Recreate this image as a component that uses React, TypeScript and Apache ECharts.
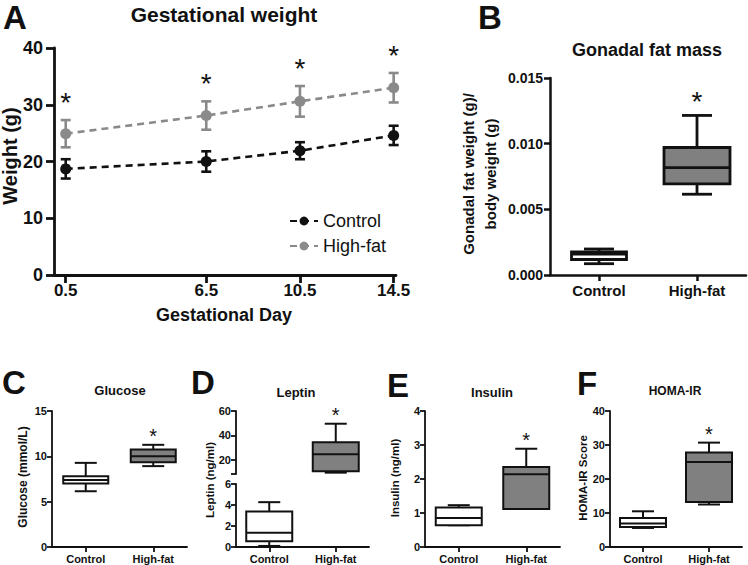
import React, { useEffect, useRef } from 'react';
import * as echarts from 'echarts';

const FONT = '"Liberation Sans", Arial, Helvetica, sans-serif';
const INK = '#111111';
const GREY_LINE = '#8a8a8a';
const BOX_GREY = '#808080';

// ---- Panel A: gestational weight (mean ± SD) ----
const gestDays = [0.5, 6.5, 10.5, 14.5];
const dayTicks = [0.5, 6.5, 10.5, 14.5];
const controlWeight = [18.7, 20.0, 21.9, 24.6];
const controlWeightErr = [1.7, 1.8, 1.5, 1.7];
const highFatWeight = [24.9, 28.1, 30.6, 33.0];
const highFatWeightErr = [2.4, 2.5, 2.7, 2.6];
const weightSig = [true, true, true, true];

// ---- Box plots: [min, Q1, median, Q3, max] ----
const groups = ['Control', 'High-fat'];
const fatMassControl = [0.00086, 0.00118, 0.0016, 0.00176, 0.00198];
const fatMassHighFat = [0.00615, 0.00694, 0.00818, 0.00971, 0.01215];
const glucoseControl = [6.15, 7.0, 7.4, 7.81, 9.28];
const glucoseHighFat = [8.92, 9.36, 10.02, 10.76, 11.27];
const leptinControl = [0.1, 0.55, 1.35, 3.38, 4.27];
const leptinHighFat = [9.6, 10.8, 24.7, 34.4, 49.6];
const insulinControl = [0.64, 0.64, 0.85, 1.16, 1.23];
const insulinHighFat = [1.12, 1.12, 2.14, 2.35, 2.89];
const homaControl = [5.6, 5.9, 6.9, 8.55, 10.5];
const homaHighFat = [12.5, 13.2, 25.0, 27.8, 30.7];
const leptinUpperTicks = [20, 40, 60];
const leptinUpperMin = 8.5;

type BoxItem = { cat: number; stats: number[]; fill: string; star: boolean; boxW: number };

function boxSeries(xi: number, yi: number, items: BoxItem[], capW: number, lw: number, starSize: number, starGap: number) {
  return {
    type: 'custom',
    xAxisIndex: xi,
    yAxisIndex: yi,
    silent: true,
    data: items.map((it) => [it.cat, ...it.stats]),
    encode: { x: 0, y: [1, 2, 3, 4, 5] },
    renderItem: (params: any, api: any) => {
      const it = items[params.dataIndex];
      const cat = api.value(0);
      const cx = api.coord([cat, api.value(1)])[0];
      const y = [1, 2, 3, 4, 5].map((k) => api.coord([cat, api.value(k)])[1]);
      const [yMin, yQ1, yMed, yQ3, yMax] = y;
      const bw = it.boxW;
      const ls = { stroke: INK, lineWidth: lw };
      const children: any[] = [
        { type: 'line', shape: { x1: cx, y1: yQ3, x2: cx, y2: yMax }, style: ls },
        { type: 'line', shape: { x1: cx - capW / 2, y1: yMax, x2: cx + capW / 2, y2: yMax }, style: ls },
        { type: 'line', shape: { x1: cx, y1: yQ1, x2: cx, y2: yMin }, style: ls },
        { type: 'line', shape: { x1: cx - capW / 2, y1: yMin, x2: cx + capW / 2, y2: yMin }, style: ls },
        {
          type: 'rect',
          shape: { x: cx - bw / 2, y: yQ3, width: bw, height: yQ1 - yQ3 },
          style: { fill: it.fill, stroke: INK, lineWidth: lw },
        },
        { type: 'line', shape: { x1: cx - bw / 2, y1: yMed, x2: cx + bw / 2, y2: yMed }, style: ls },
      ];
      if (it.star) {
        children.push({
          type: 'text',
          x: cx,
          y: yMax - starGap + starSize * 0.17,
          style: { text: '*', fontSize: starSize, fontFamily: FONT, fill: INK, align: 'center', verticalAlign: 'middle' },
        });
      }
      return { type: 'group', children };
    },
    z: 3,
  };
}

function errSeries(name: string, means: number[], errs: number[], color: string) {
  return {
    type: 'custom',
    name: name + ' SD',
    xAxisIndex: 0,
    yAxisIndex: 0,
    silent: true,
    data: gestDays.map((d, i) => [d, means[i], errs[i]]),
    renderItem: (params: any, api: any) => {
      const x = api.value(0);
      const m = api.value(1);
      const e = api.value(2);
      const top = api.coord([x, m + e]);
      const bot = api.coord([x, m - e]);
      const ls = { stroke: color, lineWidth: 2.6 };
      return {
        type: 'group',
        children: [
          { type: 'line', shape: { x1: top[0], y1: top[1], x2: bot[0], y2: bot[1] }, style: ls },
          { type: 'line', shape: { x1: top[0] - 5, y1: top[1], x2: top[0] + 5, y2: top[1] }, style: ls },
          { type: 'line', shape: { x1: bot[0] - 5, y1: bot[1], x2: bot[0] + 5, y2: bot[1] }, style: ls },
        ],
      };
    },
    z: 2,
  };
}

const boldLabel = (size: number, margin: number, extra: any = {}) => ({
  fontFamily: FONT,
  fontWeight: 'bold',
  fontSize: size,
  color: INK,
  margin,
  ...extra,
});

function valueY(gi: number, min: number, max: number, interval: number | undefined, size: number, lw: number, tickLen: number, margin: number, extra: any = {}) {
  return {
    type: 'value',
    gridIndex: gi,
    min,
    max,
    ...(interval !== undefined ? { interval } : {}),
    axisLine: { show: true, lineStyle: { color: INK, width: lw } },
    axisTick: { show: true, length: tickLen, lineStyle: { color: INK, width: lw }, ...(extra.tick || {}) },
    axisLabel: { ...boldLabel(size, margin), ...(extra.label || {}) },
    splitLine: { show: false },
  };
}

function catX(gi: number, size: number, lw: number, tickLen: number, margin: number, show = true) {
  return {
    type: 'category',
    gridIndex: gi,
    show,
    data: groups,
    axisLine: { show: true, lineStyle: { color: INK, width: lw } },
    axisTick: { show: true, alignWithLabel: true, length: tickLen, lineStyle: { color: INK, width: lw } },
    axisLabel: boldLabel(size, margin),
    splitLine: { show: false },
  };
}

const txt = (text: string, x: number, y: number, size: number, bold = true, rot = 0, extra: any = {}) => ({
  type: 'text',
  x,
  y,
  rotation: rot,
  silent: true,
  style: {
    text,
    fontFamily: FONT,
    fontWeight: bold ? 'bold' : 'normal',
    fontSize: size,
    fill: INK,
    align: 'center',
    verticalAlign: 'middle',
    ...extra,
  },
});

export default function App() {
  const ref = useRef<HTMLDivElement>(null);
  useEffect(() => {
    if (!ref.current) return;
    const chart = echarts.init(ref.current, null, { renderer: 'svg', width: 748, height: 565 });
    const R = Math.PI / 2;
    const noOuter = { containLabel: false, outerBoundsMode: 'none', show: false };
    const option: any = {
      animation: false,
      backgroundColor: '#ffffff',
      textStyle: { fontFamily: FONT },
      grid: [
        { left: 54, top: 48, width: 342, height: 227, ...noOuter }, // A
        { left: 550, top: 78, width: 196, height: 197, ...noOuter }, // B
        { left: 52, top: 411, width: 135, height: 136, ...noOuter }, // C
        { left: 236, top: 411, width: 133, height: 63, ...noOuter }, // D upper
        { left: 236, top: 484, width: 133, height: 63, ...noOuter }, // D lower
        { left: 425, top: 411, width: 135, height: 136, ...noOuter }, // E
        { left: 610, top: 411, width: 132, height: 136, ...noOuter }, // F
      ],
      xAxis: [
        {
          type: 'value',
          gridIndex: 0,
          min: 0,
          max: 14.6,
          axisLine: { show: true, lineStyle: { color: INK, width: 2.8 } },
          axisTick: { show: true, length: 8, customValues: dayTicks, lineStyle: { color: INK, width: 2.8 } },
          axisLabel: { ...boldLabel(17, 7), customValues: dayTicks, formatter: (v: number) => String(v) },
          splitLine: { show: false },
        },
        catX(1, 15, 2.5, 6, 8),
        catX(2, 11, 1.8, 5, 6),
        catX(3, 11, 1.8, 5, 6, false),
        catX(4, 11, 1.8, 5, 6),
        catX(5, 11, 1.8, 5, 6),
        catX(6, 11, 1.8, 5, 6),
      ],
      yAxis: [
        valueY(0, 0, 40, 10, 18, 2.8, 8, 11),
        valueY(1, 0, 0.015, 0.005, 14, 2.5, 6, 7, { label: { formatter: (v: number) => v.toFixed(3) } }),
        valueY(2, 0, 15, 5, 11, 1.8, 5, 5),
        valueY(3, leptinUpperMin, 60, undefined, 11, 1.8, 5, 5, {
          label: { customValues: leptinUpperTicks },
          tick: { customValues: [leptinUpperMin, ...leptinUpperTicks] },
        }),
        valueY(4, 0, 6, 2, 11, 1.8, 5, 5),
        valueY(5, 0, 4, 1, 11, 1.8, 5, 5),
        valueY(6, 0, 40, 10, 11, 1.8, 5, 5),
      ],
      legend: {
        data: ['Control', 'High-fat'],
        orient: 'vertical',
        left: 284,
        top: 207,
        itemWidth: 28,
        itemHeight: 11,
        itemGap: 7,
        textStyle: { fontFamily: FONT, fontSize: 18, color: INK },
        selectedMode: false,
      },
      series: [
        errSeries('Control', controlWeight, controlWeightErr, INK),
        errSeries('High-fat', highFatWeight, highFatWeightErr, GREY_LINE),
        {
          type: 'line',
          name: 'Control',
          xAxisIndex: 0,
          yAxisIndex: 0,
          data: gestDays.map((d, i) => [d, controlWeight[i]]),
          symbol: 'circle',
          symbolSize: 11,
          itemStyle: { color: INK },
          lineStyle: { color: INK, width: 2.6, type: [7, 5] },
          z: 3,
        },
        {
          type: 'line',
          name: 'High-fat',
          xAxisIndex: 0,
          yAxisIndex: 0,
          data: gestDays.map((d, i) => [d, highFatWeight[i]]),
          symbol: 'circle',
          symbolSize: 11,
          itemStyle: { color: GREY_LINE },
          lineStyle: { color: GREY_LINE, width: 2.6, type: [7, 5] },
          z: 3,
        },
        {
          type: 'custom',
          name: 'A stars',
          xAxisIndex: 0,
          yAxisIndex: 0,
          silent: true,
          data: gestDays.map((d, i) => [d, highFatWeight[i] + highFatWeightErr[i], weightSig[i] ? 1 : 0]),
          renderItem: (params: any, api: any) => {
            if (!api.value(2)) return null;
            const p = api.coord([api.value(0), api.value(1)]);
            return {
              type: 'text',
              x: p[0],
              y: p[1] - 22 + 4.5,
              style: { text: '*', fontSize: 28, fontFamily: FONT, fill: INK, align: 'center', verticalAlign: 'middle' },
            };
          },
          z: 4,
        },
        boxSeries(1, 1, [
          { cat: 0, stats: fatMassControl, fill: '#ffffff', star: false, boxW: 55 },
          { cat: 1, stats: fatMassHighFat, fill: BOX_GREY, star: true, boxW: 66 },
        ], 30, 2.8, 28, 19),
        boxSeries(2, 2, [
          { cat: 0, stats: glucoseControl, fill: '#ffffff', star: false, boxW: 45 },
          { cat: 1, stats: glucoseHighFat, fill: BOX_GREY, star: true, boxW: 45 },
        ], 22, 2, 20, 12),
        boxSeries(3, 3, [
          { cat: 1, stats: leptinHighFat, fill: BOX_GREY, star: true, boxW: 46 },
        ], 22, 2, 20, 12),
        boxSeries(4, 4, [
          { cat: 0, stats: leptinControl, fill: '#ffffff', star: false, boxW: 46 },
        ], 22, 2, 20, 12),
        boxSeries(5, 5, [
          { cat: 0, stats: insulinControl, fill: '#ffffff', star: false, boxW: 46 },
          { cat: 1, stats: insulinHighFat, fill: BOX_GREY, star: true, boxW: 46 },
        ], 22, 2, 20, 12),
        boxSeries(6, 6, [
          { cat: 0, stats: homaControl, fill: '#ffffff', star: false, boxW: 46 },
          { cat: 1, stats: homaHighFat, fill: BOX_GREY, star: true, boxW: 46 },
        ], 22, 2, 20, 12),
      ],
      graphic: {
        elements: [
          txt('A', 15, 17, 33),
          txt('Gestational weight', 224, 14.5, 21),
          txt('Weight (g)', 10, 156, 20, true, R),
          txt('Gestational Day', 224, 315, 18),
          txt('B', 490, 17, 33),
          txt('Gonadal fat mass', 647, 50, 18),
          txt('Gonadal fat weight (g)/\nbody weight (g)', 479, 174, 15, true, R, { lineHeight: 22 }),
          txt('C', 14, 382, 33),
          txt('Glucose', 120, 390, 13),
          txt('Glucose (mmol/L)', 22.5, 477, 12, true, R),
          txt('D', 203, 382, 33),
          txt('Leptin', 296, 392, 13),
          txt('Leptin (ng/ml)', 209.5, 480, 11.5, true, R),
          txt('E', 398, 385, 33),
          txt('Insulin', 492, 392, 13),
          txt('Insulin (ng/ml)', 395, 478, 11.5, true, R),
          txt('F', 587, 383, 33),
          txt('HOMA-IR', 675, 391, 12),
          txt('HOMA-IR Score', 582.5, 478, 11.5, true, R),
        ],
      },
    };
    chart.setOption(option);
    return () => chart.dispose();
  }, []);
  return (
    <div
      ref={ref}
      style={{ position: 'fixed', left: 0, top: 0, width: 748, height: 565, background: '#fff' }}
    />
  );
}
